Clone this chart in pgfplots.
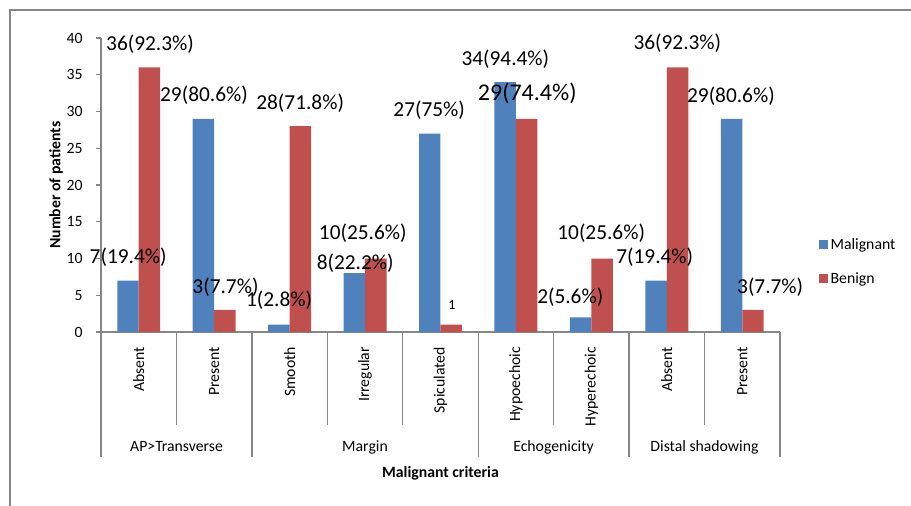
\documentclass[border=0pt]{standalone}
\usepackage{fontspec}
\setmainfont{Carlito}
\usepackage{pgfplots}
\pgfplotsset{compat=1.18}
\definecolor{malig}{HTML}{4F81BD}
\definecolor{benign}{HTML}{C0504D}
\definecolor{axgray}{HTML}{868686}
\newcommand{\tk}{\fontsize{11.8}{14}\selectfont}
\newcommand{\lbl}{\fontsize{16}{19}\selectfont}

\begin{document}
\begin{tikzpicture}
% outer frame (pixel units, y down)
\begin{scope}[x=0.75pt,y=-0.75pt]
  \useasboundingbox (0,0) rectangle (911,506);
  \draw[axgray, line width=1.2pt] (10,506) -- (10,10) -- (911,10);
\end{scope}

\begin{axis}[
    at={(75.75pt,-249pt)}, anchor=south west,
    scale only axis,
    width=509.25pt, height=220.5pt,
    xmin=-0.5, xmax=8.5,
    ymin=0, ymax=40,
    axis x line=bottom, axis y line=left,
    axis line style={axgray, line width=1pt, -},
    ybar=0pt, bar width=16.1pt,
    xtick={0,...,8},
    xticklabels={Absent,Present,Smooth,Irregular,Spiculated,Hypoechoic,Hyperechoic,Absent,Present},
    x tick style={draw=none},
    xticklabel style={rotate=90, anchor=east, font=\tk},
    xticklabel shift=4pt,
    ytick={0,5,...,40},
    y tick style={axgray, line width=1pt},
    tick align=outside,
    major tick length=3.75pt,
    yticklabel style={font=\tk},
    yticklabel shift=6.5pt,
    /pgf/number format/assume math mode=true,
    clip=false,
    legend style={draw=none, fill=none, font=\tk,
        at={(axis description cs:1.057,0.239)}, anchor=west,
        row sep=12pt, inner sep=0pt},
    legend cell align=left,
]
\addplot[fill=malig, draw=none,
    legend image code/.code={\fill[malig] (0pt,-3.4pt) rectangle (6.75pt,3.4pt);}]
    coordinates {(0,7)(1,29)(2,1)(3,8)(4,27)(5,34)(6,2)(7,7)(8,29)};
\addlegendentry{Malignant}
\addplot[fill=benign, draw=none,
    legend image code/.code={\fill[benign] (0pt,-3.4pt) rectangle (6.75pt,3.4pt);}]
    coordinates {(0,36)(1,3)(2,28)(3,10)(4,1)(5,29)(6,10)(7,36)(8,3)};
\addlegendentry{Benign}

% data labels
\node[font=\lbl] at (axis cs:0.15,39.2) {36(92.3\%)};
\node[font=\lbl] at (axis cs:-0.14,10.2) {7(19.4\%)};
\node[font=\lbl] at (axis cs:0.865,32.2) {29(80.6\%)};
\node[font=\lbl] at (axis cs:1.15,6.1) {3(7.7\%)};
\node[font=\lbl] at (axis cs:1.86,4.35) {1(2.8\%)};
\node[font=\lbl] at (axis cs:2.14,31.2) {28(71.8\%)};
\node[font=\lbl] at (axis cs:2.87,9.4) {8(22.2\%)};
\node[font=\lbl] at (axis cs:2.97,13.5) {10(25.6\%)};
\node[font=\lbl] at (axis cs:3.85,30.2) {27(75\%)};
\node[font=\fontsize{10.5}{12}\selectfont] at (axis cs:4.15,3.7) {1};
\node[font=\lbl] at (axis cs:4.86,37.1) {34(94.4\%)};
\node[font=\fontsize{18}{21}\selectfont] at (axis cs:5.15,32.5) {29(74.4\%)};
\node[font=\lbl] at (axis cs:5.72,4.8) {2(5.6\%)};
\node[font=\lbl] at (axis cs:6.13,13.5) {10(25.6\%)};
\node[font=\lbl] at (axis cs:6.84,10.2) {7(19.4\%)};
\node[font=\lbl] at (axis cs:7.14,39.3) {36(92.3\%)};
\node[font=\lbl] at (axis cs:7.85,32.1) {29(80.6\%)};
\node[font=\lbl] at (axis cs:8.37,6.1) {3(7.7\%)};
\end{axis}

% category separators, group labels and axis titles (pixel units)
\begin{scope}[x=0.75pt,y=-0.75pt]
  \foreach \i in {1,3,4,6,8}
    \draw[axgray, line width=1pt] ({101+75.44*\i},332) -- ({101+75.44*\i},425);
  \foreach \i in {0,2,5,7,9}
    \draw[axgray, line width=1pt] ({101+75.44*\i},332) -- ({101+75.44*\i},457);
  \node[font=\tk] at (176.5,447) {AP>Transverse};
  \node[font=\tk] at (365,447) {Margin};
  \node[font=\tk] at (553.5,447) {Echogenicity};
  \node[font=\tk] at (704.5,447) {Distal shadowing};
  \node[font=\tk\bfseries] at (440.5,473) {Malignant criteria};
  \node[font=\tk\bfseries, rotate=90] at (56,185) {Number of patients};
\end{scope}
\end{tikzpicture}
\end{document}
